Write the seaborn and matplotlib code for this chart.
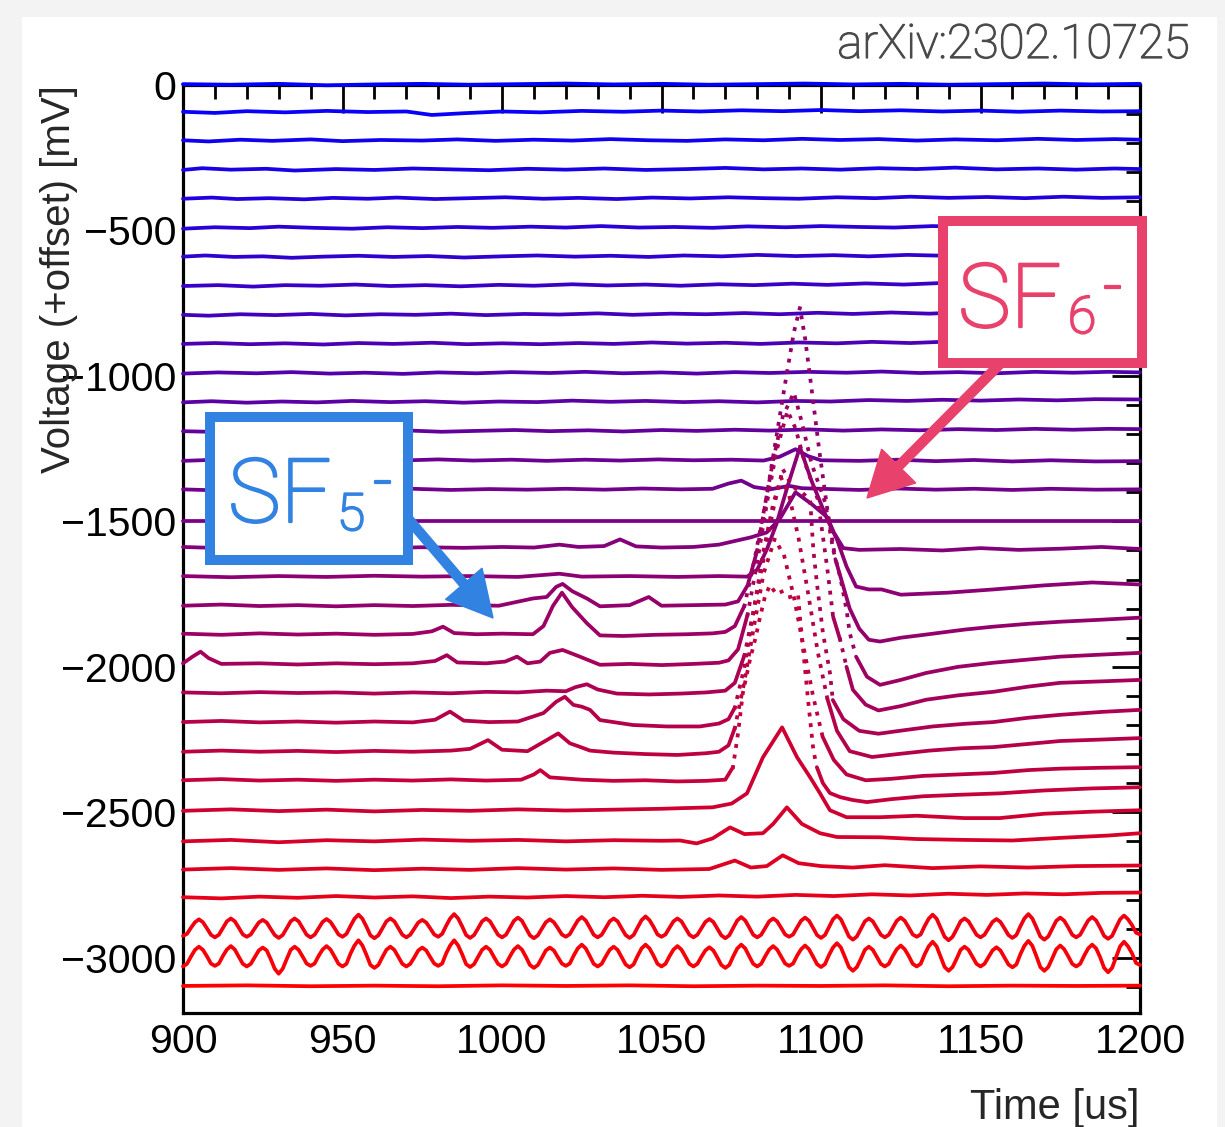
import numpy as np
import pandas as pd
import matplotlib
matplotlib.use("Agg")
import matplotlib.pyplot as plt
import matplotlib.patches as mpatches
import matplotlib.patheffects as pe
from matplotlib.transforms import IdentityTransform
from matplotlib.ticker import MultipleLocator
import seaborn as sns

# ---------------------------------------------------------------- data
# Each waveform: (time [us], voltage [mV] relative to its own offset)
offsets_mv = [0, -100, -200, -300, -400, -500, -600, -700, -800, -900,
              -1000, -1100, -1200, -1300, -1400, -1500, -1600, -1700, -1800, -1900,
              -2000, -2100, -2200, -2300, -2400, -2500, -2600, -2700, -2800, -2900,
              -3000, -3100]

trace_00 = [(900, 3), (915, 1), (930, 4), (945, -1), (960, 2), (975, 4), (990, 1), (1005, 3), (1020, 5),
            (1035, 2), (1050, 4), (1065, 1), (1080, 3), (1095, 5), (1110, 2), (1125, 4), (1140, 1),
            (1155, 3), (1170, 5), (1185, 2), (1200, 4)]
trace_01 = [(900, 8), (910, 4), (920, 10), (932, 6), (945, 11), (958, 7), (970, 9), (978, -3), (988, 3),
            (1000, 9), (1012, 6), (1025, 11), (1038, 8), (1050, 12), (1062, 9), (1075, 13), (1088, 10),
            (1100, 14), (1112, 10), (1125, 13), (1138, 9), (1150, 12), (1162, 8), (1175, 12), (1188, 9),
            (1200, 10)]
trace_02 = [(900, 10), (908, 6), (918, 12), (928, 8), (940, 13), (950, 7), (962, 11), (975, 9), (986, 13),
            (998, 8), (1010, 12), (1022, 9), (1034, 14), (1046, 10), (1058, 8), (1070, 13), (1082, 10),
            (1094, 15), (1106, 11), (1118, 14), (1130, 9), (1142, 13), (1155, 10), (1168, 15), (1180, 11),
            (1192, 14), (1200, 12)]
trace_03 = [(900, 8), (906, 14), (915, 9), (926, 12), (935, 6), (948, 11), (960, 8), (972, 13), (984, 10),
            (996, 7), (1008, 12), (1020, 9), (1032, 13), (1045, 8), (1058, 11), (1070, 15), (1082, 10),
            (1094, 13), (1106, 9), (1118, 14), (1130, 11), (1142, 16), (1155, 10), (1168, 13), (1180, 9),
            (1192, 13), (1200, 11)]
trace_04 = [(900, 9), (909, 13), (917, 8), (927, 11), (938, 7), (947, 12), (958, 9), (967, 13), (979, 8),
            (990, 11), (1001, 14), (1013, 9), (1024, 12), (1036, 8), (1047, 13), (1059, 10), (1071, 14),
            (1082, 11), (1093, 9), (1105, 14), (1117, 11), (1128, 16), (1140, 12), (1152, 15), (1164, 11),
            (1176, 16), (1188, 12), (1200, 14)]
trace_05 = [(900, 6), (910, 11), (921, 8), (930, 13), (941, 9), (953, 6), (964, 11), (975, 8), (986, 12),
            (997, 9), (1009, 13), (1020, 10), (1031, 15), (1043, 10), (1054, 12), (1066, 9), (1077, 14),
            (1089, 11), (1100, 15), (1112, 12), (1123, 10), (1135, 15), (1147, 12), (1159, 16), (1171, 12),
            (1183, 15), (1200, 13)]
trace_06 = [(900, 10), (907, 14), (916, 9), (925, 11), (934, 6), (944, 10), (955, 13), (966, 9), (977, 12),
            (988, 7), (1000, 11), (1011, 14), (1023, 10), (1034, 13), (1046, 9), (1057, 14), (1069, 11),
            (1080, 16), (1092, 12), (1104, 15), (1115, 11), (1127, 16), (1139, 13), (1151, 17), (1163, 13),
            (1175, 16), (1188, 12), (1200, 15)]
trace_07 = [(900, 9), (911, 12), (922, 7), (932, 12), (943, 10), (954, 14), (965, 9), (976, 12), (987, 8),
            (999, 13), (1010, 10), (1022, 15), (1033, 11), (1045, 14), (1056, 10), (1068, 15), (1079, 12),
            (1091, 17), (1102, 13), (1114, 18), (1126, 14), (1137, 19), (1149, 15), (1161, 20), (1173, 16),
            (1185, 21), (1200, 20)]
trace_08 = [(900, 10), (908, 7), (918, 12), (929, 9), (940, 13), (951, 8), (962, 12), (973, 10), (984, 14),
            (995, 9), (1007, 13), (1018, 11), (1030, 15), (1041, 10), (1053, 14), (1064, 12), (1076, 16),
            (1087, 12), (1099, 17), (1110, 13), (1122, 18), (1134, 14), (1145, 19), (1157, 15), (1169, 18),
            (1181, 14), (1200, 17)]
trace_09 = [(900, 10), (910, 13), (921, 9), (932, 12), (944, 8), (955, 13), (966, 10), (978, 14), (989, 9),
            (1000, 12), (1012, 9), (1024, 13), (1035, 10), (1047, 15), (1058, 11), (1070, 14), (1081, 10),
            (1093, 15), (1105, 12), (1116, 17), (1128, 13), (1140, 18), (1152, 14), (1163, 19), (1175, 16),
            (1188, 20), (1200, 19)]
trace_10 = [(900, 8), (911, 12), (923, 9), (934, 13), (946, 8), (957, 11), (969, 7), (980, 12), (992, 9),
            (1003, 13), (1015, 10), (1026, 14), (1038, 9), (1050, 12), (1061, 8), (1073, 13), (1084, 10),
            (1096, 14), (1108, 11), (1119, 15), (1131, 10), (1143, 13), (1155, 9), (1167, 14), (1179, 11),
            (1190, 14), (1200, 12)]
trace_11 = [(900, 9), (909, 13), (920, 8), (931, 12), (942, 9), (953, 14), (965, 10), (976, 13), (988, 8),
            (999, 12), (1011, 10), (1022, 15), (1034, 11), (1045, 14), (1057, 10), (1068, 13), (1080, 9),
            (1092, 14), (1103, 12), (1115, 17), (1127, 14), (1138, 18), (1150, 15), (1162, 19), (1174, 16),
            (1186, 20), (1200, 19)]
trace_12 = [(900, 10), (912, 7), (923, 12), (935, 9), (946, 14), (958, 10), (969, 13), (981, 8), (992, 11),
            (1004, 14), (1015, 10), (1027, 13), (1038, 9), (1050, 14), (1061, 11), (1073, 15), (1084, 12),
            (1096, 16), (1107, 12), (1119, 16), (1131, 13), (1143, 17), (1155, 14), (1167, 18), (1179, 15),
            (1190, 18), (1200, 17)]
trace_13 = [(900, 8), (911, 12), (922, 8), (934, 11), (945, 7), (957, 12), (968, 9), (980, 13), (991, 9),
            (1003, 12), (1014, 8), (1026, 12), (1037, 9), (1049, 13), (1060, 10), (1072, 12), (1082, 9),
            (1087, 22), (1092, 48), (1096, 24), (1100, 10), (1112, 8), (1124, 12), (1136, 7), (1148, 11),
            (1160, 6), (1172, 10), (1186, 6), (1200, 7)]
trace_14 = [(900, 10), (912, 6), (924, 11), (936, 8), (948, 12), (960, 9), (972, 12), (984, 8), (996, 11),
            (1008, 9), (1020, 12), (1032, 9), (1044, 13), (1056, 10), (1066, 12), (1071, 30), (1075, 40),
            (1079, 18), (1084, 10), (1090, 22), (1094, 14), (1100, 12), (1112, 8), (1124, 13), (1136, 9),
            (1148, 12), (1160, 8), (1172, 12), (1186, 9), (1200, 10)]
trace_15 = [(900, 0), (1200, 0)]
trace_16 = [(900, 12), (912, 8), (925, 13), (938, 9), (950, 12), (962, 8), (975, 11), (988, 9), (1000, 12),
            (1010, 10), (1018, 20), (1024, 12), (1032, 15), (1037, 38), (1042, 14), (1050, 10), (1060, 12),
            (1068, 20), (1072, 30), (1078, 45), (1083, 62), (1087, 107), (1092, 200), (1097, 160),
            (1102, 114), (1104, 62), (1107, 8), (1112, 2), (1125, 5), (1138, 0), (1150, 8), (1162, 2),
            (1175, 6), (1188, 12), (1200, 5)]
trace_17 = [(900, 12), (915, 8), (930, 12), (945, 9), (960, 13), (975, 10), (990, 12), (1005, 9),
            (1018, 20), (1025, 10), (1040, 12), (1055, 9), (1068, 12), (1076.8, 10), (1080, 34),
            (1083, 103), (1086, 190), (1089.5, 320), (1093.4, 455), (1097, 340), (1100, 260), (1102, 206),
            (1105, 138), (1108, 45), (1111, -24), (1115, -34), (1119, -34), (1125, -52), (1140, -45),
            (1154, -34), (1170, -20), (1185, -10), (1200, -17)]
trace_18 = [(900, 10), (912, 14), (924, 9), (936, 12), (948, 8), (960, 12), (972, 9), (984, 13), (999, 10),
            (1009.7, 35), (1014, 40), (1017, 75), (1019, 85), (1022, 60), (1026.6, 35), (1030.7, 8),
            (1040, 12), (1046, 40), (1050, 10), (1060, 12), (1070, 14), (1074, 25), (1077, 80),
            (1080, 200), (1083, 390), (1086, 590), (1089, 790), (1091.5, 950), (1093.4, 1035),
            (1095, 930), (1097, 760), (1099.5, 540), (1102, 340), (1104.5, 170), (1107, 76), (1109, 0),
            (1112, -69), (1115, -107), (1118.5, -113), (1125, -100), (1133, -89), (1145, -72), (1154, -62),
            (1165, -52), (1175, -45), (1188, -38), (1200, -31)]
trace_19 = [(900, 14), (912, 10), (924, 15), (936, 11), (948, 14), (960, 10), (972, 13), (978, 22),
            (981.5, 38), (985, 16), (992, 12), (1000, 14), (1009.7, 12), (1013, 40), (1016, 110),
            (1018.8, 155), (1022, 105), (1026.6, 50), (1030.7, 8), (1038, 6), (1048, 10), (1058, 12),
            (1066, 15), (1070, 20), (1073, 40), (1076, 110), (1079, 260), (1082, 430), (1085, 610),
            (1088, 760), (1091.5, 843), (1094, 740), (1097, 600), (1101.3, 465), (1103.8, 303),
            (1106, 210), (1108, 96), (1109, 17), (1111, -65), (1114.4, -134), (1118.5, -162), (1125, -145),
            (1133, -121), (1143, -100), (1154, -86), (1165, -75), (1175, -65), (1188, -58), (1200, -52)]
trace_20 = [(900, 12), (903, 35), (905.5, 52), (908, 30), (912, 10), (924, 12), (936, 8), (948, 12),
            (960, 9), (972, 12), (979, 20), (982.7, 40), (986, 15), (995, 12), (1001, 18), (1004.7, 35),
            (1008, 12), (1012, 18), (1015, 48), (1019, 58), (1024.4, 35), (1030.7, 7), (1040, 10),
            (1050, 6), (1060, 10), (1068, 14), (1071, 22), (1074, 60), (1077, 180), (1080, 360),
            (1083, 560), (1086, 740), (1089.5, 880), (1092, 820), (1095, 700), (1099, 575), (1101.9, 344),
            (1103.8, 172), (1106, 93), (1108, 0), (1110, -79), (1114, -130), (1118, -150), (1125, -135),
            (1133, -113), (1143, -98), (1154, -86), (1165, -68), (1175, -55), (1188, -50), (1200, -45)]
trace_21 = [(900, 12), (912, 9), (924, 13), (936, 10), (948, 12), (960, 8), (972, 12), (984, 9), (995, 14),
            (1005, 12), (1014, 18), (1020, 16), (1023, 30), (1026.6, 40), (1030, 22), (1036, 8), (1046, 5),
            (1056, 8), (1064, 12), (1070, 18), (1073, 45), (1076, 140), (1079, 300), (1082, 470),
            (1085, 640), (1088, 780), (1091, 720), (1094, 700), (1096.6, 674), (1097.6, 502),
            (1098.7, 389), (1100.6, 217), (1102.8, 79), (1103.7, -14), (1107, -80), (1112, -120),
            (1118, -130), (1126, -118), (1135, -105), (1145, -96), (1154, -90), (1165, -75), (1175, -65),
            (1188, -55), (1200, -48)]
trace_22 = [(900, 10), (912, 14), (924, 9), (936, 12), (948, 8), (960, 12), (972, 9), (979, 18),
            (983.7, 46), (988, 15), (996, 10), (1005, 12), (1013, 41), (1017, 80), (1019.7, 97),
            (1022.4, 69), (1025, 63), (1027.6, 52), (1030.7, 17), (1041, 0), (1051.7, -5), (1062, -5),
            (1068, 5), (1071, 20), (1073, 60), (1076, 200), (1079, 400), (1082, 600), (1085, 760),
            (1087.5, 850), (1090, 790), (1093, 640), (1096, 450), (1099, 250), (1102, 90), (1105, -20),
            (1109, -90), (1116, -110), (1124, -100), (1134, -88), (1144, -80), (1154, -76), (1165, -65),
            (1175, -55), (1188, -50), (1200, -45)]
trace_23 = [(900, 8), (912, 12), (924, 8), (936, 11), (948, 7), (960, 11), (972, 8), (984, 12), (990, 18),
            (995.6, 48), (1000, 15), (1008, 10), (1014, 48), (1017.6, 71), (1021.3, 37), (1024.4, 25),
            (1027.6, 12), (1035, 5), (1045, 0), (1055, -3), (1064, 3), (1068, 8), (1071, 30), (1073, 90),
            (1076, 250), (1079, 440), (1082, 620), (1085.5, 740), (1088.5, 680), (1091.5, 540),
            (1094.5, 370), (1097.5, 200), (1100.5, 60), (1104, -20), (1108, -70), (1114, -90), (1122, -85),
            (1132, -75), (1143, -70), (1154, -65), (1165, -55), (1175, -50), (1188, -47), (1200, -45)]
trace_24 = [(900, 10), (912, 14), (924, 9), (936, 12), (948, 8), (960, 12), (972, 9), (984, 13), (995, 9),
            (1006, 12), (1010, 30), (1012, 45), (1015, 20), (1025, 12), (1035, 8), (1045, 10), (1055, 6),
            (1064, 8), (1070, 12), (1072.4, 55), (1074, 172), (1075.5, 310), (1077.7, 423), (1079.3, 492),
            (1080.9, 571), (1082.4, 640), (1084, 681), (1086, 650), (1088, 660), (1090.3, 640),
            (1092.8, 647), (1093.4, 571), (1094.4, 458), (1096, 280), (1097.6, 114), (1098.7, 55),
            (1100.6, 0), (1102.8, -34), (1106, -48), (1110, -58), (1114.4, -65), (1122, -55), (1132, -45),
            (1143, -40), (1156, -35), (1170, -25), (1185, -18), (1200, -14)]
trace_25 = [(900, 5), (915, 10), (930, 4), (945, 9), (960, 3), (975, 8), (990, 5), (1005, 10), (1020, 6),
            (1035, 9), (1050, 12), (1055.8, 14), (1066, 17), (1072, 30), (1076.8, 65), (1081.8, 189),
            (1087.8, 292), (1092.5, 189), (1096.6, 120), (1099.7, 65), (1102.8, 7), (1108, -17),
            (1118.5, -17), (1130, -12), (1145, -20), (1156, -20), (1170, -5), (1185, 2), (1200, 7)]
trace_26 = [(900, 0), (915, 5), (930, -3), (945, 4), (960, 0), (975, 6), (990, 2), (1005, 5), (1020, 0),
            (1035, 4), (1050, 2), (1055.8, 3), (1061, -7), (1066, 10), (1071.5, 48), (1076, 25),
            (1081.8, 28), (1085, 60), (1089.3, 117), (1094, 60), (1099.7, 28), (1105, 15), (1118.5, 14),
            (1130, 8), (1145, 5), (1160, 3), (1175, 12), (1190, 20), (1200, 28)]
trace_27 = [(900, 3), (915, 8), (930, 2), (945, 7), (960, 1), (975, 6), (990, 2), (1005, 8), (1020, 3),
            (1035, 7), (1050, 2), (1065, 5), (1073, 34), (1078, 10), (1083, 15), (1088, 52), (1093, 25),
            (1100, 15), (1110, 10), (1120, 18), (1135, 8), (1150, 14), (1165, 10), (1180, 15), (1200, 17)]
trace_28 = [(900, 8), (912, 4), (924, 10), (936, 6), (948, 12), (960, 7), (972, 11), (984, 5), (996, 10),
            (1008, 7), (1020, 12), (1032, 8), (1044, 13), (1056, 9), (1068, 14), (1080, 10), (1092, 16),
            (1104, 12), (1116, 18), (1128, 14), (1140, 20), (1152, 16), (1164, 21), (1176, 18),
            (1188, 23), (1200, 24)]

# 100 kHz pickup on two channels, sampled every 1.25 us (one row per 10 us cycle)
ripple_time_us = np.arange(900.0, 1200.01, 1.25)
trace_29_ripple = [
    -25, -18, 3, 22, 32, 22, 1, -21,   -30, -21, 2, 25, 35, 25, 3, -20,
    -28, -20, 1, 21, 30, 21, -1, -22,  -32, -22, 1, 25, 35, 25, 2, -21,
    -30, -21, 1, 23, 33, 23, 2, -20,   -28, -18, 9, 34, 48, 34, 7, -23,
    -33, -23, 1, 25, 35, 25, 2, -21,   -30, -21, 0, 21, 30, 21, 1, -20,
    -28, -18, 10, 35, 50, 35, 8, -22,  -32, -22, 1, 25, 35, 25, 2, -21,
    -30, -21, 3, 27, 38, 27, 2, -23,   -33, -23, 0, 22, 32, 22, 2, -20,
    -28, -19, 5, 28, 40, 28, 4, -21,   -30, -21, 2, 25, 35, 25, 1, -22,
    -32, -22, 4, 29, 42, 29, 6, -20,   -28, -20, 3, 25, 35, 25, 2, -21,
    -30, -21, 1, 23, 33, 23, 0, -23,   -33, -23, 3, 28, 40, 28, 4, -21,
    -30, -21, 2, 25, 35, 25, 3, -20,   -28, -20, 4, 27, 38, 27, 3, -22,
    -32, -22, 5, 32, 45, 32, 3, -27,   -38, -27, -1, 25, 35, 25, 2, -21,
    -30, -21, 3, 27, 38, 27, 4, -20,   -28, -20, 9, 34, 48, 34, 3, -28,
    -40, -28, -2, 25, 35, 25, 2, -21,  -30, -21, 1, 23, 33, 23, 1, -22,
    -32, -22, 8, 35, 50, 35, 5, -27,   -38, -27, 0, 27, 38, 27, 4, -21,
    -30, -21, 4, 28, 40, 28, 3, -25,   -35, -25, 4, 32, 45, 32, 12, -14,
    -20]
trace_30_ripple = [
    -30, -21, 4, 27, 38, 27, 5, -20,   -28, -20, 6, 28, 40, 28, 3, -21,
    -30, -21, 2, 25, 35, 25, -5, -38,  -55, -38, -5, 27, 38, 27, 4, -20,
    -28, -20, 6, 28, 40, 28, 4, -21,   -30, -21, 14, 42, 60, 42, 10, -25,
    -35, -25, 2, 27, 38, 27, 3, -21,   -30, -21, 1, 25, 35, 25, 2, -20,
    -28, -20, 15, 42, 60, 42, 12, -22, -32, -22, 3, 27, 38, 27, 2, -21,
    -30, -21, 5, 28, 40, 28, 3, -25,   -35, -25, 0, 25, 35, 25, 2, -20,
    -28, -20, 8, 32, 45, 32, 6, -21,   -30, -21, 4, 27, 38, 27, 2, -23,
    -33, -23, 6, 32, 45, 32, 7, -21,   -30, -21, 5, 28, 40, 28, 4, -21,
    -30, -21, 3, 25, 36, 25, 1, -25,   -35, -25, 5, 32, 45, 32, 5, -21,
    -30, -21, 5, 28, 40, 28, 4, -20,   -28, -20, 7, 29, 42, 29, 4, -22,
    -32, -22, 9, 35, 50, 35, 2, -32,   -45, -32, -4, 27, 38, 27, 3, -21,
    -30, -21, 6, 29, 42, 29, 6, -21,   -30, -21, 12, 39, 55, 39, 4, -32,
    -45, -32, -4, 27, 38, 27, 3, -21,  -30, -21, 2, 25, 36, 25, 1, -23,
    -33, -23, 12, 41, 58, 41, 6, -32,  -45, -32, -2, 29, 42, 29, 5, -21,
    -30, -21, 7, 32, 45, 32, 2, -35,   -50, -35, 2, 39, 55, 39, 15, -18,
    -25]
trace_31 = [(900, 3), (920, 5), (940, 2), (960, 4), (980, 2), (1000, 5), (1020, 3), (1040, 5), (1060, 2),
            (1080, 4), (1100, 3), (1120, 5), (1140, 2), (1160, 4), (1180, 3), (1200, 4)]

traces = [trace_00, trace_01, trace_02, trace_03, trace_04, trace_05, trace_06, trace_07,
          trace_08, trace_09, trace_10, trace_11, trace_12, trace_13, trace_14, trace_15,
          trace_16, trace_17, trace_18, trace_19, trace_20, trace_21, trace_22, trace_23,
          trace_24, trace_25, trace_26, trace_27, trace_28,
          list(zip(ripple_time_us, trace_29_ripple)), list(zip(ripple_time_us, trace_30_ripple)),
          trace_31]

# ---------------------------------------------------------------- table
# Fast-moving stretches of a waveform show up as separated sample dots:
# steep flanks, and the whole top of the large (>0.5 V) pulses.
STEEP_MV_PER_US = 40.0
BIG_PULSE_MV = 500.0
rows = []
seg = 0
for k, knots in enumerate(traces):
    t = np.array([p[0] for p in knots], dtype=float)
    rel = np.array([p[1] for p in knots], dtype=float)
    v = rel + offsets_mv[k]
    steep = np.abs(np.diff(v) / np.diff(t)) > STEEP_MV_PER_US
    if rel.max() > BIG_PULSE_MV:
        top = np.minimum(rel[:-1], rel[1:]) > 0.35 * rel.max()
        steep = steep | top
    i = 0
    while i < len(steep):
        j = i
        while j + 1 < len(steep) and steep[j + 1] == steep[i]:
            j += 1
        kind = "dotted" if steep[i] else "solid"
        for p in range(i, j + 2):
            rows.append((t[p], v[p], f"ch{k:02d}", seg, kind))
        seg += 1
        i = j + 1
df = pd.DataFrame(rows, columns=["time", "voltage", "trace", "seg", "kind"])

n = len(traces)
palette = {f"ch{k:02d}": (k / (n - 1), 0.0, 1.0 - k / (n - 1)) for k in range(n)}

# ---------------------------------------------------------------- figure
sns.set_style("white")
plt.rcParams["font.family"] = ["Liberation Sans", "DejaVu Sans"]
plt.rcParams["axes.unicode_minus"] = True

W, H = 1225, 1127
fig = plt.figure(figsize=(W / 100, H / 100), dpi=100)
fig.patch.set_facecolor("#f3f3f3")
fig.add_artist(mpatches.Rectangle((22, 0), 1195, H - 17, transform=IdentityTransform(),
                                  facecolor="white", edgecolor="none", zorder=-10))

ax = fig.add_axes([183 / W, (H - 1013) / H, 957 / W, 928 / H])
sns.lineplot(data=df, x="time", y="voltage", hue="trace", units="seg", style="kind",
             estimator=None, sort=False, palette=palette,
             dashes={"solid": "", "dotted": (0.05, 2.8)}, linewidth=2.7, legend=False, ax=ax)
for ln in ax.lines:
    ln.set_clip_on(False)
    ln.set_zorder(2.6)
    ln.set_dash_capstyle("projecting")

ax.set_xlim(900, 1200)
ax.set_ylim(-3190, 0)
ax.xaxis.set_major_locator(MultipleLocator(50))
ax.xaxis.set_minor_locator(MultipleLocator(10))
ax.yaxis.set_major_locator(MultipleLocator(500))
ax.yaxis.set_minor_locator(MultipleLocator(100))
ax.tick_params(which="both", direction="in", top=True, right=True, width=2.0,
               labelsize=29.5, colors="black")
ax.tick_params(which="major", length=20)
ax.tick_params(which="minor", length=10)
ax.tick_params(axis="x", pad=7)
ax.tick_params(axis="y", pad=5)
for sp in ax.spines.values():
    sp.set_linewidth(2.3)
    sp.set_color("black")

ax.set_xlabel("Time [us]", fontsize=30, loc="right")
ax.xaxis.set_label_coords(1.0, -0.081)
ax.set_ylabel("Voltage (+offset) [mV]", fontsize=29, loc="top")
ax.yaxis.set_label_coords(-0.11, 1.0)

thin = dict(family=["Roboto", "Liberation Sans", "DejaVu Sans"], fontweight="light")
arx = fig.text(1190, H - 45, "arXiv:2302.10725", transform=IdentityTransform(), ha="right",
               va="center", fontsize=34, color="#4a4a4a", **thin)
arx.set_path_effects([pe.withStroke(linewidth=0.9, foreground="#4a4a4a")])

# ---------------------------------------------------------------- ion labels
def Y(y):
    return H - y

sf6_color = "#e8426c"
sf5_color = "#3282e1"

fig.add_artist(mpatches.FancyArrow(1000, Y(364), 867 - 1000, Y(498) - Y(364), width=9,
                                   head_width=48, head_length=45, length_includes_head=True,
                                   transform=IdentityTransform(), color=sf6_color, zorder=5))
fig.add_artist(mpatches.FancyArrow(405, Y(515), 493 - 405, Y(618) - Y(515), width=9,
                                   head_width=48, head_length=45, length_includes_head=True,
                                   transform=IdentityTransform(), color=sf5_color, zorder=5))

fig.add_artist(mpatches.Rectangle((943, Y(363)), 199, 142, transform=IdentityTransform(),
                                  facecolor="white", edgecolor=sf6_color, linewidth=7.2, zorder=6))
fig.add_artist(mpatches.Rectangle((210, Y(560)), 198, 143, transform=IdentityTransform(),
                                  facecolor="white", edgecolor=sf5_color, linewidth=7.2, zorder=6))

lab = dict(transform=IdentityTransform(), zorder=7, **thin)
ion_texts = [
    fig.text(958, Y(327), "SF", fontsize=64, color=sf6_color, ha="left", va="baseline", **lab),
    fig.text(1068, Y(333), "6", fontsize=37, color=sf6_color, ha="left", va="baseline", **lab),
    fig.text(1113, Y(290), "-", fontsize=46, color=sf6_color, ha="center", va="center", **lab),
    fig.text(228, Y(522), "SF", fontsize=64, color=sf5_color, ha="left", va="baseline", **lab),
    fig.text(337, Y(530), "5", fontsize=37, color=sf5_color, ha="left", va="baseline", **lab),
    fig.text(383, Y(485), "-", fontsize=46, color=sf5_color, ha="center", va="center", **lab),
]
for txt in ion_texts:
    txt.set_path_effects([pe.withStroke(linewidth=1.6, foreground=txt.get_color())])

fig.savefig("out.png", dpi=100, facecolor=fig.get_facecolor())
